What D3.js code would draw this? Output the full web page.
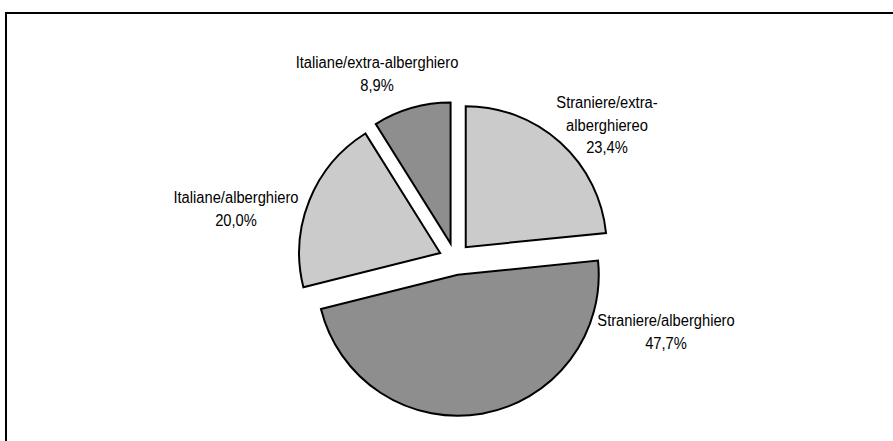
<!DOCTYPE html>
<meta charset="utf-8">
<script src="https://d3js.org/d3.v7.min.js"></script>
<body style="margin:0;background:#fff">
<div id="chart"></div>
</body>
<script>
// data, clockwise from 12 o'clock
const categories = ["Straniere/extra-alberghiereo", "Straniere/alberghiero", "Italiane/alberghiero", "Italiane/extra-alberghiero"];
const values = [23.4, 47.7, 20.0, 8.9];
const labelLines = [
  ["Straniere/extra-", "alberghiereo"],
  ["Straniere/alberghiero"],
  ["Italiane/alberghiero"],
  ["Italiane/extra-alberghiero"]
];
const fills = ["#cbcbcb", "#8e8e8e", "#cbcbcb", "#8e8e8e"];

// layout
const width = 893, height = 441;
const cx = 455, cy = 259, radius = 141, explode = 16;
const labelPos = [[607, 108], [666, 326], [236, 203], [377, 68]];
const lineGap = 22.5;

const fmt = v => d3.format(".1f")(v).replace(".", ",") + "%";

const svg = d3.select("#chart").append("svg")
  .attr("width", width)
  .attr("height", height);

// frame (only top and left edges are in view)
svg.append("rect")
  .attr("x", 6).attr("y", 13)
  .attr("width", width + 20).attr("height", height + 20)
  .attr("fill", "none")
  .attr("stroke", "#000")
  .attr("stroke-width", 2);

const pie = d3.pie().sort(null).value(d => d)(values);
const arc = d3.arc().innerRadius(0).outerRadius(radius);

const g = svg.append("g").attr("transform", `translate(${cx},${cy})`);

g.selectAll("path")
  .data(pie)
  .join("path")
  .attr("d", arc)
  .attr("transform", d => {
    const a = (d.startAngle + d.endAngle) / 2;
    return `translate(${Math.sin(a) * explode},${-Math.cos(a) * explode})`;
  })
  .attr("fill", (d, i) => fills[i])
  .attr("stroke", "#000")
  .attr("stroke-width", 2)
  .attr("stroke-linejoin", "miter");

// labels
categories.forEach((c, i) => {
  const lines = labelLines[i].concat([fmt(values[i])]);
  const [lx, ly] = labelPos[i];
  lines.forEach((t, j) => {
    svg.append("text")
      .attr("transform", `translate(${lx},${ly + j * lineGap}) scale(0.92,1)`)
      .attr("text-anchor", "middle")
      .style("font-family", "'Liberation Sans', Arial, sans-serif")
      .style("font-size", "16px")
      .style("fill", "#000")
      .text(t);
  });
});
</script>
